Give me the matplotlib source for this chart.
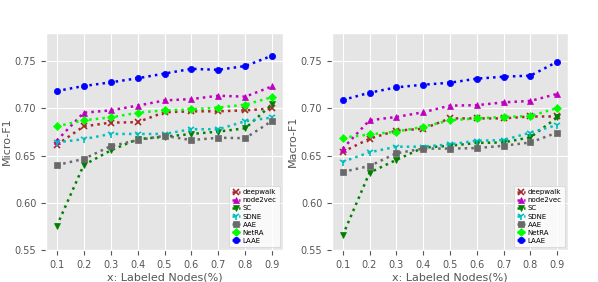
import matplotlib
matplotlib.use("Agg")
import matplotlib.pyplot as plt

plt.style.use("ggplot")

ratios = [0.1, 0.2, 0.3, 0.4, 0.5, 0.6, 0.7, 0.8, 0.9]
xticks = ["0.1", "0.2", "0.3", "0.4", "0.5", "0.6", "0.7", "0.8", "0.9"]
methods = ["deepwalk", "node2vec", "SC", "SDNE", "AAE", "NetRA", "LAAE"]

micro_deepwalk = [0.6615, 0.681, 0.685, 0.6855, 0.696, 0.697, 0.697, 0.698, 0.700]
micro_node2vec = [0.666, 0.6955, 0.698, 0.703, 0.7085, 0.710, 0.7135, 0.7125, 0.7235]
micro_sc = [0.5755, 0.640, 0.6555, 0.6675, 0.670, 0.673, 0.6755, 0.679, 0.7045]
micro_sdne = [0.664, 0.6675, 0.673, 0.673, 0.673, 0.678, 0.678, 0.6865, 0.6905]
micro_aae = [0.640, 0.6465, 0.660, 0.6665, 0.671, 0.6665, 0.669, 0.6685, 0.687]
micro_netra = [0.681, 0.6875, 0.6905, 0.6955, 0.698, 0.699, 0.701, 0.704, 0.712]
micro_laae = [0.7185, 0.7238, 0.7277, 0.732, 0.737, 0.742, 0.741, 0.745, 0.756]

macro_deepwalk = [0.654, 0.668, 0.6765, 0.6785, 0.6895, 0.6895, 0.6895, 0.6915, 0.6915]
macro_node2vec = [0.6575, 0.6875, 0.691, 0.696, 0.703, 0.7035, 0.7065, 0.708, 0.7155]
macro_sc = [0.5655, 0.632, 0.6455, 0.6585, 0.6605, 0.6635, 0.664, 0.6695, 0.6905]
macro_sdne = [0.6435, 0.6535, 0.6595, 0.6595, 0.662, 0.6658, 0.6665, 0.6745, 0.6825]
macro_aae = [0.6328, 0.639, 0.6525, 0.6575, 0.6575, 0.658, 0.6605, 0.664, 0.6745]
macro_netra = [0.669, 0.6725, 0.6755, 0.6805, 0.6875, 0.6895, 0.691, 0.692, 0.7005]
macro_laae = [0.709, 0.7167, 0.7224, 0.7252, 0.7273, 0.7316, 0.7337, 0.7348, 0.7495]

micro = [micro_deepwalk, micro_node2vec, micro_sc, micro_sdne, micro_aae, micro_netra, micro_laae]
macro = [macro_deepwalk, macro_node2vec, macro_sc, macro_sdne, macro_aae, macro_netra, macro_laae]

styles = [("brown", "x"), ("m", "^"), ("g", "v"), ("c", "1"),
          ("dimgray", "s"), ("lime", "D"), ("b", "o")]

fig = plt.figure(figsize=(5.98, 2.82), dpi=100)
ax1 = fig.add_axes([46 / 598, 32 / 282, 237 / 598, 217 / 282])
ax2 = fig.add_axes([332 / 598, 32 / 282, 236 / 598, 217 / 282])

for ax, data, ylab in [(ax1, micro, "Micro-F1"), (ax2, macro, "Macro-F1")]:
    for name, vals, (c, m) in zip(methods, data, styles):
        ms = 6 if m == "1" else 4.5
        ax.plot(ratios, vals, linestyle=":", linewidth=1.8, color=c, marker=m,
                markersize=ms, markeredgewidth=1.2 if m in ("x", "1") else 0.5,
                label=name)
    ax.set_ylim(0.55, 0.78)
    ax.set_xticks(ratios)
    ax.set_xticklabels(xticks)
    ax.set_yticks([0.55, 0.60, 0.65, 0.70, 0.75])
    ax.tick_params(labelsize=7)
    ax.set_xlabel("x: Labeled Nodes(%)", fontsize=8, labelpad=2)
    ax.set_ylabel(ylab, fontsize=8, labelpad=2)
    leg = ax.legend(loc="lower right", fontsize=5, handlelength=1.2,
                    labelspacing=0.3, borderpad=0.4, handletextpad=0.4)
    leg.get_frame().set_facecolor("white")

fig.savefig("out.png", dpi=100)
